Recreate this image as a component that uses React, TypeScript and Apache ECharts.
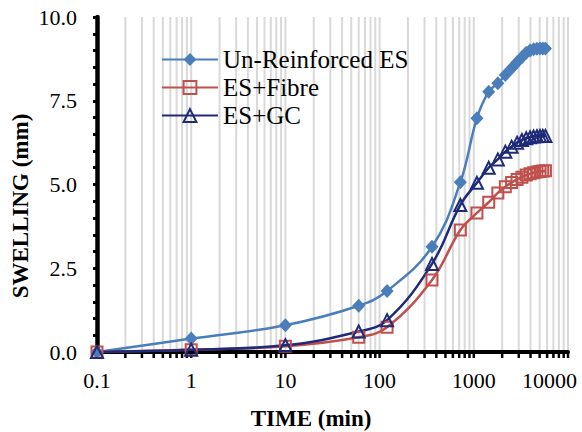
import React, { useEffect, useRef } from "react";
import * as echarts from "echarts";

// Time (min)
const times = [0.1, 1, 10, 60, 120, 360, 720, 1080, 1440, 1800, 2160, 2520, 2880, 3240, 3600, 3960, 4320, 4680, 5040, 5400, 5760];
// Swelling (mm)
const unreinforced = [0, 0.4, 0.8, 1.38, 1.82, 3.14, 5.07, 6.98, 7.77, 8.02, 8.27, 8.47, 8.65, 8.8, 8.93, 9.0, 9.04, 9.05, 9.06, 9.06, 9.06];
const fibre = [0, 0.07, 0.17, 0.44, 0.74, 2.15, 3.64, 4.15, 4.47, 4.75, 4.93, 5.06, 5.15, 5.22, 5.28, 5.32, 5.35, 5.37, 5.39, 5.4, 5.41];
const gc = [0, 0.07, 0.2, 0.61, 0.95, 2.63, 4.39, 5.05, 5.5, 5.75, 5.98, 6.13, 6.25, 6.33, 6.38, 6.41, 6.43, 6.44, 6.45, 6.45, 6.45];

const seriesNames = ["Un-Reinforced ES", "ES+Fibre", "ES+GC"];
const seriesColors = ["#4A7EBB", "#C0504D", "#1F2A78"];

// log-axis decades and minor multipliers for gridlines
const decades = [0.1, 1, 10, 100, 1000];
const multipliers = [2, 3, 4, 5, 6, 7, 8, 9, 10];

const FONT = "'Liberation Serif', 'Times New Roman', serif";

export default function App() {
  const ref = useRef<HTMLDivElement>(null);
  useEffect(() => {
    if (!ref.current) return;
    const chart = echarts.init(ref.current, null, { renderer: "svg" });
    const gridValues: number[] = [];
    decades.forEach((d) => multipliers.forEach((m) => gridValues.push(Number((d * m).toPrecision(6)))));

    const mk = (i: number, arr: number[], symbol: string, size: number | number[], filled: boolean) => ({
      name: seriesNames[i],
      type: "line",
      data: times.map((t, k) => [t, arr[k]]),
      smooth: 0.4,
      symbol,
      symbolSize: size,
      lineStyle: { color: seriesColors[i], width: 2.5 },
      itemStyle: filled
        ? { color: seriesColors[i] }
        : { color: "rgba(255,255,255,0)", borderColor: seriesColors[i], borderWidth: 2 },
      z: 3,
    });

    chart.setOption({
      animation: false,
      grid: { left: 97, right: 14, top: 17, bottom: 80 },
      legend: {
        orient: "vertical",
        left: 156,
        top: 41,
        itemWidth: 56,
        itemHeight: 16,
        itemGap: 1,
        data: seriesNames,
        textStyle: { fontFamily: FONT, fontSize: 25, color: "#000", lineHeight: 27 },
      },
      xAxis: {
        type: "log",
        logBase: 10,
        min: 0.1,
        max: 10000,
        interval: 1,
        z: 1,
        axisLine: { show: true, lineStyle: { color: "#000", width: 4 } },
        axisTick: { show: false },
        splitLine: { show: false },
        axisLabel: {
          fontFamily: FONT,
          fontSize: 22,
          color: "#000",
          margin: 17,
          formatter: (v: number) => {
            const s = String(Number(v.toPrecision(6)));
            return v >= 9999 ? `{last|${s}}` : s;
          },
          rich: {
            last: { fontFamily: FONT, fontSize: 22, color: "#000", padding: [0, 37, 0, 0] },
          },
        },
      },
      yAxis: {
        type: "value",
        min: 0,
        max: 10,
        interval: 2.5,
        z: 1,
        axisLine: { show: true, lineStyle: { color: "#000", width: 4.5 } },
        axisTick: { show: true, length: 4, lineStyle: { color: "#000", width: 3 } },
        minorTick: { show: true, splitNumber: 5, length: 4, lineStyle: { color: "#000", width: 3 } },
        splitLine: { show: false },
        axisLabel: {
          fontFamily: FONT,
          fontSize: 22,
          color: "#000",
          margin: 20,
          formatter: (v: number) => v.toFixed(1),
        },
      },
      graphic: [
        {
          type: "text",
          x: 20,
          y: 206,
          rotation: Math.PI / 2,
          style: { text: "SWELLING (mm)", font: `bold 23px ${FONT}`, fill: "#000", align: "center", verticalAlign: "middle" },
        },
        {
          type: "text",
          x: 311,
          y: 418,
          style: { text: "TIME (min)", font: `bold 23px ${FONT}`, fill: "#000", align: "center", verticalAlign: "middle" },
        },
      ],
      series: [
        {
          type: "custom",
          name: "grid",
          z: 0,
          silent: true,
          data: gridValues.map((v) => [v, 0]),
          renderItem: (params: any, api: any) => {
            const v = api.value(0);
            const top = api.coord([v, 10]);
            const bot = api.coord([v, 0]);
            return {
              type: "group",
              children: [
                {
                  type: "line",
                  shape: { x1: top[0], y1: top[1], x2: bot[0], y2: bot[1] - 2 },
                  style: { stroke: "#D9D9D9", lineWidth: 2 },
                },
                {
                  type: "line",
                  shape: { x1: bot[0], y1: bot[1], x2: bot[0], y2: bot[1] + 6 },
                  style: { stroke: "#000", lineWidth: 2.5 },
                },
              ],
            };
          },
        },
        mk(0, unreinforced, "diamond", [13, 14], true),
        mk(1, fibre, "rect", 11, false),
        mk(2, gc, "triangle", 12, false),
      ],
    } as any);
    return () => chart.dispose();
  }, []);
  return <div ref={ref} style={{ position: "fixed", left: 0, top: 0, width: 582, height: 432, background: "#fff" }} />;
}
